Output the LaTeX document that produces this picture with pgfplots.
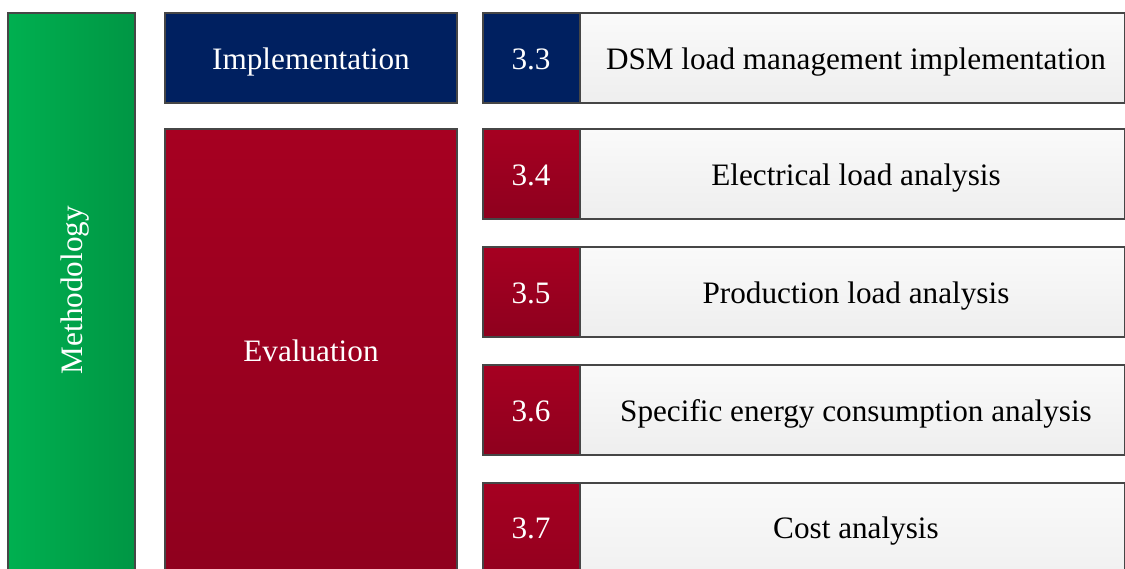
\documentclass[border=0pt]{standalone}
\usepackage{fontspec}
\setmainfont{Liberation Serif}
\usepackage{pgfplots}
\pgfplotsset{compat=1.18}
\definecolor{gA}{RGB}{0,176,80}
\definecolor{gB}{RGB}{0,150,68}
\definecolor{navy}{RGB}{0,32,96}
\definecolor{rA}{RGB}{166,0,33}
\definecolor{rB}{RGB}{142,0,30}
\definecolor{wA}{RGB}{250,250,250}
\definecolor{wB}{RGB}{238,238,238}
\definecolor{bd}{RGB}{70,70,70}
\tikzset{lbl/.style={anchor=base, inner sep=0pt, font=\fontsize{15.6}{18}\selectfont}}
\begin{document}
\begin{tikzpicture}
\begin{axis}[
  scale only axis, width=562.5pt, height=284pt,
  xmin=0, xmax=1125, ymin=0, ymax=568, y dir=reverse,
  hide axis, clip=true,
]
\pgfplotsextra{
\path (axis cs:0,0) rectangle (axis cs:1125,568);
% Methodology
\draw[bd, line width=0.6pt, left color=gA, right color=gB] (axis cs:8,13) rectangle (axis cs:135,600);
\node[lbl, text=white, rotate=90] at (axis cs:82,290) {Methodology};
% Implementation
\draw[bd, line width=0.6pt, fill=navy] (axis cs:165,13) rectangle (axis cs:457,103);
\node[lbl, text=white] at (axis cs:311,69) {Implementation};
% Evaluation
\draw[bd, line width=0.6pt, top color=rA, bottom color=rB] (axis cs:165,129) rectangle (axis cs:457,600);
\node[lbl, text=white] at (axis cs:311,361) {Evaluation};
% rows
\draw[bd, line width=0.6pt, fill=navy] (axis cs:483,13) rectangle (axis cs:580,103);
\draw[bd, line width=0.6pt, top color=wA, bottom color=wB] (axis cs:580,13) rectangle (axis cs:1124.5,103);
\node[lbl, text=white] at (axis cs:531,69) {3.3};
\node[lbl] at (axis cs:856,69) {DSM load management implementation};
\foreach \ya/\yb in {129/219,247/337,365/455,483/600}{
  \draw[bd, line width=0.6pt, top color=rA, bottom color=rB] (axis cs:483,\ya) rectangle (axis cs:580,\yb);
  \draw[bd, line width=0.6pt, top color=wA, bottom color=wB] (axis cs:580,\ya) rectangle (axis cs:1124.5,\yb);
}
\node[lbl, text=white] at (axis cs:531,185) {3.4};
\node[lbl] at (axis cs:856,185) {Electrical load analysis};
\node[lbl, text=white] at (axis cs:531,303) {3.5};
\node[lbl] at (axis cs:856,303) {Production load analysis};
\node[lbl, text=white] at (axis cs:531,421) {3.6};
\node[lbl] at (axis cs:856,421) {Specific energy consumption analysis};
\node[lbl, text=white] at (axis cs:531,538) {3.7};
\node[lbl] at (axis cs:856,538) {Cost analysis};
}
\end{axis}
\end{tikzpicture}
\end{document}
